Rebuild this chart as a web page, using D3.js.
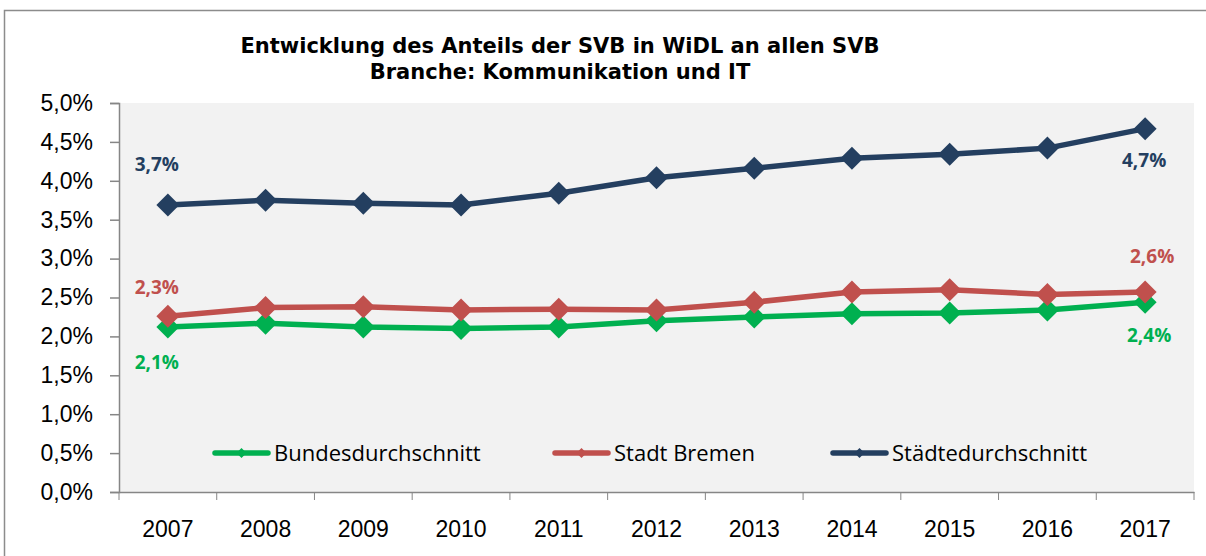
<!DOCTYPE html>
<html>
<head>
<meta charset="utf-8">
<script src="https://cdn.jsdelivr.net/npm/d3@7"></script>
<style>
  body { margin: 0; background: #fff; }
  svg { display: block; font-family: "Open Sans", "Noto Sans", sans-serif; }
</style>
</head>
<body>
<div id="chart"></div>
<script>
const years = ["2007","2008","2009","2010","2011","2012","2013","2014","2015","2016","2017"];
const bundes = [2.12, 2.17, 2.12, 2.10, 2.12, 2.20, 2.25, 2.29, 2.30, 2.34, 2.44];
const bremen = [2.26, 2.37, 2.38, 2.34, 2.35, 2.34, 2.44, 2.57, 2.60, 2.54, 2.57];
const staedte = [3.69, 3.75, 3.71, 3.69, 3.84, 4.04, 4.16, 4.29, 4.34, 4.42, 4.67];
const yTicks = [0, 0.5, 1, 1.5, 2, 2.5, 3, 3.5, 4, 4.5, 5];

// label offsets: [dx, dy] for first and last point
const series = [
  {name: "Bundesdurchschnitt", values: bundes, color: "#00b050", first: [-11, 42], last: [4, 40]},
  {name: "Stadt Bremen", values: bremen, color: "#c0504d", first: [-11, -22], last: [7, -29]},
  {name: "Städtedurchschnitt", values: staedte, color: "#243f60", first: [-11, -34], last: [-1, 38]}
];

const width = 1206, height = 556;
const margin = {top: 103, right: 12, bottom: 64, left: 119};

const de = d3.formatLocale({decimal: ",", thousands: ".", grouping: [3], currency: ["", "€"]});
const fmtPct = v => de.format(".1f")(v) + "%";

const svg = d3.select("#chart").append("svg")
  .attr("width", width)
  .attr("height", height);

// outer frame
svg.append("path")
  .attr("d", "M4.5," + height + "V10.5H" + width)
  .attr("fill", "none")
  .attr("stroke", "#8c8c8c")
  .attr("stroke-width", 1.5);

const x = d3.scaleBand()
  .domain(years)
  .range([margin.left, width - margin.right]);

const y = d3.scaleLinear()
  .domain([0, 5])
  .range([height - margin.bottom, margin.top]);

// plot background
svg.append("rect")
  .attr("x", margin.left)
  .attr("y", y(5))
  .attr("width", x.range()[1] - margin.left)
  .attr("height", y(0) - y(5))
  .attr("fill", "#f2f2f2");

// title
const title = svg.append("g")
  .style("font-family", "'DejaVu Sans', Verdana, sans-serif")
  .style("font-weight", "bold").style("font-size", "21px");
title.append("text")
  .attr("x", 560).attr("y", 53)
  .attr("text-anchor", "middle")
  .text("Entwicklung des Anteils der SVB in WiDL an allen SVB");
title.append("text")
  .attr("x", 560).attr("y", 79)
  .attr("text-anchor", "middle")
  .text("Branche: Kommunikation und IT");

// y axis
const yAxis = svg.append("g")
  .attr("transform", "translate(" + margin.left + ",0)")
  .call(d3.axisLeft(y).tickValues(yTicks).tickFormat(fmtPct).tickSize(9).tickPadding(17));
yAxis.selectAll("text").style("font-size", "23px").attr("fill", "#000");

// x axis
const xAxis = svg.append("g")
  .attr("transform", "translate(0," + y(0) + ")")
  .call(d3.axisBottom(x).tickSize(0).tickPadding(29));
xAxis.selectAll("text").style("font-size", "23px").attr("fill", "#000");
xAxis.selectAll(".bound")
  .data(years.concat(["end"]))
  .join("line")
    .attr("class", "bound")
    .attr("x1", (d, i) => i < years.length ? x(d) : x.range()[1])
    .attr("x2", (d, i) => i < years.length ? x(d) : x.range()[1])
    .attr("y1", 0).attr("y2", 8)
    .attr("stroke", "#868686");

svg.selectAll(".domain, .tick line").attr("stroke", "#868686").attr("stroke-width", 1.5);

const line = d3.line()
  .x((d, i) => x(years[i]) + x.bandwidth() / 2)
  .y(d => y(d));

const diamond = r => "M0," + (-r) + "L" + r + ",0L0," + r + "L" + (-r) + ",0Z";

series.forEach(s => {
  const g = svg.append("g");
  g.append("path")
    .datum(s.values)
    .attr("d", line)
    .attr("fill", "none")
    .attr("stroke", s.color)
    .attr("stroke-width", 5.5)
    .attr("stroke-linejoin", "round");

  g.selectAll("path.marker")
    .data(s.values)
    .join("path")
      .attr("class", "marker")
      .attr("d", diamond(11.5))
      .attr("transform", (d, i) => "translate(" + (x(years[i]) + x.bandwidth() / 2) + "," + y(d) + ")")
      .attr("fill", s.color);

  // first and last value labels
  const ends = [
    {i: 0, off: s.first},
    {i: s.values.length - 1, off: s.last}
  ];
  g.selectAll("text.lbl")
    .data(ends)
    .join("text")
      .attr("class", "lbl")
      .attr("x", d => x(years[d.i]) + x.bandwidth() / 2 + d.off[0])
      .attr("y", d => y(s.values[d.i]) + d.off[1])
      .attr("text-anchor", "middle")
      .attr("fill", s.color)
      .style("font-weight", "bold")
      .style("font-size", "19px")
      .text(d => fmtPct(s.values[d.i]));
});

// legend
const legendX = [215, 555, 833];
const legendY = y(0.5);
series.forEach((s, i) => {
  const g = svg.append("g").attr("transform", "translate(" + legendX[i] + "," + legendY + ")");
  g.append("line")
    .attr("x1", 0).attr("x2", 53)
    .attr("stroke", s.color).attr("stroke-width", 5.5).attr("stroke-linecap", "round");
  g.append("path").attr("d", diamond(5)).attr("transform", "translate(26.5,0)").attr("fill", s.color);
  g.append("text")
    .attr("x", 59).attr("y", 8)
    .style("font-size", "22px")
    .attr("fill", "#000")
    .text(s.name);
});
</script>
</body>
</html>
